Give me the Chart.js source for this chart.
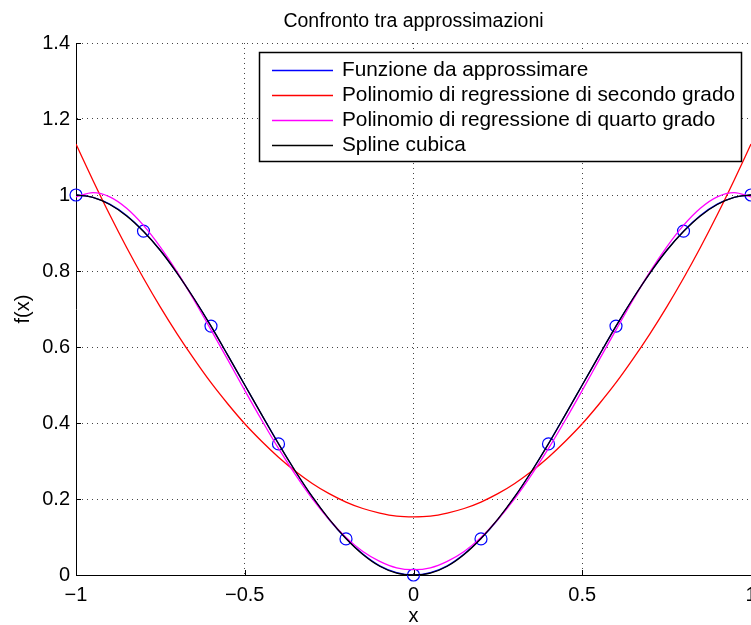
<!DOCTYPE html>
<html>
<head>
<meta charset="utf-8">
<script src="https://cdn.jsdelivr.net/npm/chart.js@4"></script>
<style>
  body { margin: 0; background: #fff; }
  #wrap { width: 751px; height: 625px; }
</style>
</head>
<body>
<div id="wrap"><canvas id="chart" width="751" height="625"></canvas></div>
<script>
// sample abscissae for the curves
const xs = [-1, -0.95, -0.9, -0.85, -0.8, -0.75, -0.7, -0.65, -0.6, -0.55, -0.5,
            -0.45, -0.4, -0.35, -0.3, -0.25, -0.2, -0.15, -0.1, -0.05, 0,
            0.05, 0.1, 0.15, 0.2, 0.25, 0.3, 0.35, 0.4, 0.45, 0.5,
            0.55, 0.6, 0.65, 0.7, 0.75, 0.8, 0.85, 0.9, 0.95, 1];

// funzione da approssimare (blue)
const funzione = [1.000, 0.994, 0.976, 0.946, 0.905, 0.854, 0.794, 0.727, 0.655, 0.578, 0.500,
                  0.422, 0.346, 0.273, 0.206, 0.146, 0.096, 0.055, 0.024, 0.006, 0.000,
                  0.006, 0.024, 0.055, 0.096, 0.146, 0.206, 0.273, 0.346, 0.422, 0.500,
                  0.578, 0.655, 0.727, 0.794, 0.854, 0.905, 0.946, 0.976, 0.994, 1.000];

// polinomio di secondo grado (red)
const secondoGrado = [1.134, 1.039, 0.948, 0.862, 0.781, 0.705, 0.634, 0.568, 0.506, 0.450, 0.398,
                      0.352, 0.310, 0.273, 0.241, 0.214, 0.192, 0.175, 0.163, 0.155, 0.153,
                      0.155, 0.163, 0.175, 0.192, 0.214, 0.241, 0.273, 0.310, 0.352, 0.398,
                      0.450, 0.506, 0.568, 0.634, 0.705, 0.781, 0.862, 0.948, 1.039, 1.134];

// polinomio di quarto grado (magenta)
const quartoGrado = [0.995, 1.006, 0.995, 0.965, 0.920, 0.863, 0.797, 0.723, 0.645, 0.566, 0.486,
                     0.408, 0.333, 0.264, 0.201, 0.146, 0.099, 0.062, 0.036, 0.019, 0.014,
                     0.019, 0.036, 0.062, 0.099, 0.146, 0.201, 0.264, 0.333, 0.408, 0.486,
                     0.566, 0.645, 0.723, 0.797, 0.863, 0.920, 0.965, 0.995, 1.006, 0.995];

// spline cubica (black)
const spline = [1.000, 0.994, 0.975, 0.945, 0.904, 0.854, 0.794, 0.727, 0.655, 0.578, 0.500,
                0.422, 0.345, 0.273, 0.206, 0.147, 0.096, 0.054, 0.023, 0.005, 0.000,
                0.005, 0.023, 0.054, 0.096, 0.147, 0.206, 0.273, 0.345, 0.422, 0.500,
                0.578, 0.655, 0.727, 0.794, 0.854, 0.904, 0.945, 0.975, 0.994, 1.000];

// nodi (blue circles)
const nodiX = [-1, -0.8, -0.6, -0.4, -0.2, 0, 0.2, 0.4, 0.6, 0.8, 1];
const nodiY = [1.000, 0.905, 0.655, 0.345, 0.095, 0.000, 0.095, 0.345, 0.655, 0.905, 1.000];

const legendLabels = ['Funzione da approssimare', 'Polinomio di regressione di secondo grado',
                      'Polinomio di regressione di quarto grado', 'Spline cubica'];
const legendColors = ['#0000ff', '#ff0000', '#ff00ff', '#000000'];

const FONT = '"Liberation Sans", Arial, Helvetica, sans-serif';

function toPoints(xv, yv) {
    return xv.map((x, i) => ({ x: x, y: yv[i] }));
}

function fmtTick(value) {
    const v = Number(value.toFixed(2));
    return v < 0 ? '\u2212' + String(-v) : String(v);
}

function curve(label, values, color, order) {
    return {
        label: label,
        data: toPoints(xs, values),
        showLine: true,
        borderColor: color,
        backgroundColor: color,
        borderWidth: 1.3,
        pointRadius: 0,
        cubicInterpolationMode: 'monotone',
        order: order
    };
}

const decorations = {
    id: 'decorations',
    afterDraw(chart) {
        const ctx = chart.ctx;
        const area = chart.chartArea;
        const xScale = chart.scales.x;
        const yScale = chart.scales.y;
        ctx.save();

        // inner tick marks
        ctx.strokeStyle = '#000';
        ctx.lineWidth = 1;
        ctx.beginPath();
        yScale.ticks.forEach(t => {
            if (t.value <= 0) return;
            const py = Math.round(yScale.getPixelForValue(t.value)) + 0.5;
            ctx.moveTo(area.left, py);
            ctx.lineTo(area.left + 5, py);
        });
        xScale.ticks.forEach(t => {
            if (t.value <= -1) return;
            const px = Math.round(xScale.getPixelForValue(t.value)) + 0.5;
            ctx.moveTo(px, area.bottom);
            ctx.lineTo(px, area.bottom - 5);
        });
        ctx.stroke();

        // title and axis labels
        ctx.fillStyle = '#000';
        ctx.textAlign = 'center';
        ctx.textBaseline = 'alphabetic';
        ctx.font = '19.5px ' + FONT;
        const cx = (area.left + area.right) / 2;
        ctx.fillText('Confronto tra approssimazioni', cx, 27);
        ctx.font = '20px ' + FONT;
        ctx.fillText('x', cx, 622);
        ctx.save();
        ctx.translate(29, 309);
        ctx.rotate(-Math.PI / 2);
        ctx.fillText('f(x)', 0, 0);
        ctx.restore();

        // legend box
        const bx = 259.5, by = 52.5, bw = 482, bh = 109;
        ctx.fillStyle = '#fff';
        ctx.fillRect(bx, by, bw, bh);
        ctx.strokeStyle = '#000';
        ctx.lineWidth = 1.5;
        ctx.strokeRect(bx, by, bw, bh);
        ctx.font = '20.8px ' + FONT;
        ctx.textAlign = 'left';
        ctx.textBaseline = 'middle';
        legendLabels.forEach((label, i) => {
            const ry = 70 + i * 25.1;
            ctx.strokeStyle = legendColors[i];
            ctx.lineWidth = 1.3;
            ctx.beginPath();
            ctx.moveTo(272, Math.round(ry) + 0.5);
            ctx.lineTo(333, Math.round(ry) + 0.5);
            ctx.stroke();
            ctx.fillStyle = '#000';
            ctx.fillText(label, 342, ry);
        });
        ctx.restore();
    }
};

const ctx = document.getElementById('chart').getContext('2d');
new Chart(ctx, {
    type: 'scatter',
    data: {
        datasets: [
            curve(legendLabels[3], spline, '#000000', 0),
            curve(legendLabels[2], quartoGrado, '#ff00ff', 1),
            curve(legendLabels[1], secondoGrado, '#ff0000', 2),
            {
                label: 'nodi',
                data: toPoints(nodiX, nodiY),
                showLine: false,
                pointStyle: 'circle',
                pointRadius: 6,
                pointBorderWidth: 1.2,
                pointBorderColor: '#0000ff',
                pointBackgroundColor: 'rgba(0,0,0,0)',
                clip: false,
                order: 3
            },
            curve(legendLabels[0], funzione, '#0000ff', 4)
        ]
    },
    options: {
        responsive: false,
        animation: false,
        events: [],
        layout: { autoPadding: false, padding: { top: 43, left: 0, right: 0, bottom: 0 } },
        plugins: {
            legend: { display: false },
            title: { display: false },
            tooltip: { enabled: false }
        },
        scales: {
            x: {
                type: 'linear',
                min: -1,
                max: 1,
                ticks: {
                    stepSize: 0.5,
                    padding: 8,
                    color: '#000',
                    maxRotation: 0,
                    autoSkip: false,
                    font: { family: FONT, size: 20 },
                    callback: fmtTick
                },
                grid: { color: '#444', lineWidth: 1, drawTicks: false },
                border: { display: true, color: '#000', width: 1, dash: [1, 4] },
                afterFit: function (scale) {
                    scale.height = 50;
                    scale.paddingLeft = 0;
                    scale.paddingRight = 0;
                }
            },
            y: {
                type: 'linear',
                min: 0,
                max: 1.4,
                ticks: {
                    stepSize: 0.2,
                    padding: 6,
                    color: '#000',
                    font: { family: FONT, size: 20 },
                    callback: fmtTick
                },
                grid: { color: '#444', lineWidth: 1, drawTicks: false },
                border: { display: true, color: '#000', width: 1, dash: [1, 4] },
                afterFit: function (scale) {
                    scale.width = 76;
                    scale.paddingTop = 0;
                    scale.paddingBottom = 0;
                }
            }
        }
    },
    plugins: [decorations]
});
</script>
</body>
</html>
